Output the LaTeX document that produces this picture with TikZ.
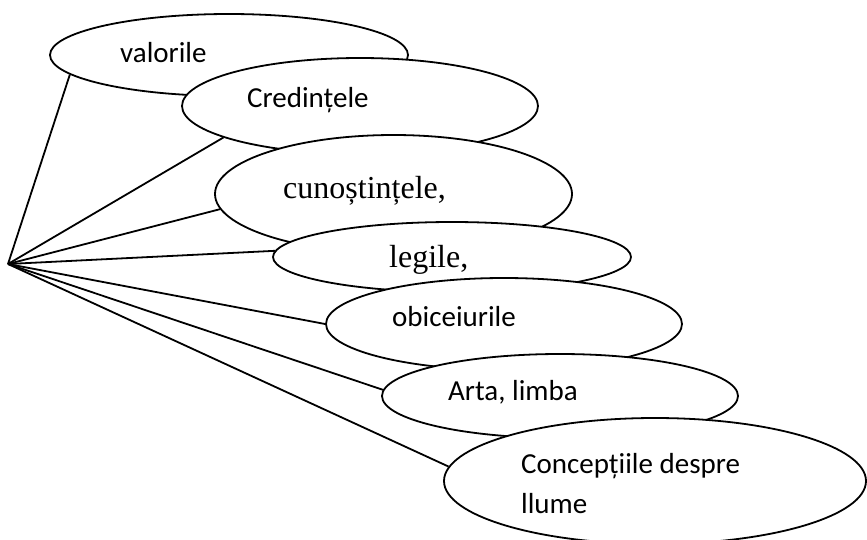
\documentclass[tikz,border=0pt]{standalone}
\usepackage{fontspec}
\setmainfont{Liberation Serif}
\newfontfamily\calib{Carlito}
\usetikzlibrary{shapes.geometric}
\tikzset{
  bulle/.style 2 args={ellipse, draw=black, line width=1.8pt, fill=white, inner sep=0pt,
                       minimum width=#1, minimum height=#2},
  mot/.style={anchor=base west, inner sep=0pt, align=left, font=\calib\fontsize{29}{40}\selectfont},
  motserif/.style={anchor=base west, inner sep=0pt, font=\fontsize{32}{38}\selectfont},
  fil/.style={line width=1.8pt, draw=black},
}
\begin{document}
\begin{tikzpicture}[x=1pt, y=-1pt]
        \useasboundingbox (0,0) rectangle (867,539);
        \coordinate (hub) at (8,264);
        \node[bulle={358pt}{82pt}] (e1) at (229,55) {};
        \node[bulle={356pt}{96pt}] (e2) at (360,106) {};
        \node[bulle={357pt}{118pt}] (e3) at (393.5,194) {};
        \node[bulle={358pt}{70pt}] (e4) at (452,257) {};
        \node[bulle={356pt}{92pt}] (e5) at (504,324) {};
        \node[bulle={356pt}{84pt}] (e6) at (560,396) {};
        \node[bulle={422pt}{126pt}] (e7) at (655,481) {};
        \node[mot] (t1) at (120,62) {valorile};
        \node[mot] (t2) at (247,107) {Credințele};
        \node[motserif] (t3) at (283,198) {cunoștințele,};
        \node[motserif] (t4) at (389,267) {legile,};
        \node[mot] (t5) at (392,326) {obiceiurile};
        \node[mot] (t6) at (448,400) {Arta, limba};
        \node[mot] (t7) at (521,513) {Concepțiile despre\\llume};
        \draw[fil] (hub) -- (e1.187); \draw[fil] (hub) -- (e2.193); \draw[fil] (hub) -- (e3.185);
        \draw[fil] (hub) -- (e4.178); \draw[fil] (hub) -- (e5.180); \draw[fil] (hub) -- (e6.178);
        \draw[fil] (hub) -- (e7.176);
      \end{tikzpicture}
\end{document}
